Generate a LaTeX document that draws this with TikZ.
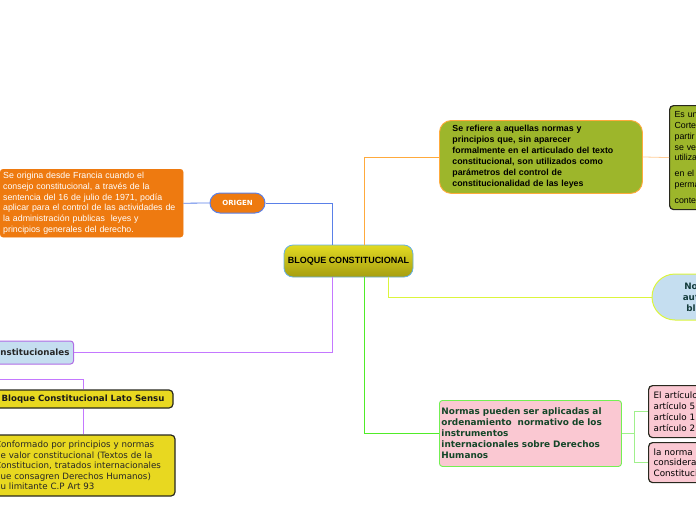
\documentclass[tikz,border=0pt]{standalone}
\usepackage{fontspec}
\setmainfont{Liberation Sans}
\newfontfamily\verd{DejaVu Sans}
\usepackage{tikz}
\usetikzlibrary{positioning,calc}
\usepackage{xcolor}
\definecolor{cOrange}{RGB}{238,122,16}
\definecolor{cOlive}{RGB}{157,182,43}
\definecolor{cSky}{RGB}{197,222,240}
\definecolor{cPink}{RGB}{250,200,210}
\definecolor{cLemon}{RGB}{232,216,32}
\definecolor{cTopY}{RGB}{226,218,34}
\definecolor{cBotY}{RGB}{166,158,16}
\definecolor{cEdgeBlue}{RGB}{100,176,228}
\definecolor{cLineBlue}{RGB}{90,128,232}
\definecolor{cLineOrange}{RGB}{255,170,60}
\definecolor{cLineLtOrange}{RGB}{255,204,150}
\definecolor{cLineYG}{RGB}{220,245,60}
\definecolor{cLinePurple}{RGB}{196,120,255}
\definecolor{cLineGreen}{RGB}{80,236,40}
\definecolor{cLineLtGreen}{RGB}{160,240,140}
\definecolor{cDarkTeal}{RGB}{20,60,60}
\definecolor{cDarkGreen}{RGB}{20,70,40}
\definecolor{cEdgeDark}{RGB}{40,40,30}
\tikzset{
  basebox/.style={rectangle,rounded corners=3pt,align=left,inner ysep=2pt},
  orangebox/.style={basebox,fill=cOrange,draw=cOrange,text=white,
                    font=\fontsize{8.8}{10.7}\selectfont},
  olivebox/.style={basebox,fill=cOlive,draw=cLineOrange,line width=0.9pt,
                   rounded corners=12pt,font=\bfseries\fontsize{8.8}{11}\selectfont},
  darkbox/.style={basebox,draw=cEdgeDark,line width=1.2pt,rounded corners=4pt},
  pinkbox/.style={basebox,fill=cPink,draw=cLineGreen!80,line width=0.9pt,
                  text=cDarkGreen,font=\verd\bfseries\fontsize{8.9}{11}\selectfont},
  pillbox/.style={rectangle,rounded corners=10pt,fill=cOrange,draw=cLineBlue,
                  line width=1pt,text=white,font=\verd\bfseries\fontsize{7}{8}\selectfont},
  link/.style={line width=0.8pt},
  bluelink/.style={link,color=cLineBlue},
  orangelink/.style={link,color=cLineOrange},
  ltorangelink/.style={link,color=cLineLtOrange},
  yglink/.style={link,color=cLineYG},
  purplelink/.style={link,color=cLinePurple},
  greenlink/.style={link,color=cLineGreen},
  ltgreenlink/.style={link,color=cLineLtGreen}
}
\begin{document}
\begin{tikzpicture}[x=1pt,y=-1pt]
  \useasboundingbox (0,0) rectangle (696,520);

  % Centre: BLOQUE CONSTITUCIONAL
  \node[rectangle,rounded corners=9pt,top color=cTopY,bottom color=cBotY,
        draw=cEdgeBlue,line width=0.8pt,minimum width=129pt,minimum height=32pt,
        font=\bfseries\fontsize{9}{10}\selectfont] (bloque) at (348.5,261)
      {BLOQUE CONSTITUCIONAL};

  % Origin branch
  \node[pillbox,minimum width=55pt,minimum height=20pt] (origen) at (237.5,203) {ORIGEN};
  \node[orangebox,anchor=north west,minimum width=183pt,minimum height=68pt,
        text width=177pt,inner xsep=3pt] (francia) at (0,169)
      {Se origina desde Francia cuando el\\
       consejo constitucional, a través de la\\
       sentencia del 16 de julio de 1971, podía\\
       aplicar para el control de las actividades de\\
       la administración publicas\ \ leyes y\\
       principios generales del derecho.};

  % Definition branch
  \node[olivebox,anchor=north west,minimum width=203pt,minimum height=73pt,
        text width=177pt,inner xsep=13pt] (refiere) at (439,120)
      {Se refiere a aquellas normas y\\
       principios que, sin aparecer\\
       formalmente en el articulado del texto\\
       constitucional, son utilizados como\\
       parámetros del control de\\
       constitucionalidad de las leyes};
  \node[darkbox,fill=cOlive,anchor=north west,minimum width=60pt,minimum height=104pt,
        text width=50pt,inner xsep=5pt,font=\fontsize{8.8}{10.8}\selectfont] (esun) at (669,105)
      {Es un\\Corte\\partir\\se ve\\utiliza\\[5pt]en el\\perma\\[5pt]conte};

  % Norms branch
  \node[rectangle,rounded corners=23pt,fill=cSky,draw=cLineYG,line width=1pt,
        minimum width=78pt,minimum height=46pt,align=center,text=cDarkTeal,
        font=\verd\bfseries\fontsize{8.8}{11}\selectfont] (noaut) at (691,297)
      {No\\aut\\bl};

  % Stricto / lato branch
  \node[basebox,fill=cSky,draw=cLinePurple!90!black,line width=1pt,anchor=east,
        minimum height=23pt,inner xsep=4pt,text=black!85,
        font=\verd\bfseries\fontsize{8.7}{10}\selectfont] (nstit) at (74,352.5)
      {nstitucionales};
  \node[darkbox,fill=cLemon,minimum width=180pt,minimum height=18pt,align=center,
        text=black!90,font=\verd\bfseries\fontsize{8.6}{10}\selectfont] (lato) at (83,399)
      {Bloque Constitucional Lato Sensu};
  \node[darkbox,fill=cLemon,minimum width=184pt,minimum height=61pt,text width=176pt,
        inner xsep=4pt,text=black!85,font=\verd\fontsize{8.7}{10.5}\selectfont] (conform) at (83,465.5)
      {Conformado por principios y normas\\
       de valor constitucional (Textos de la\\
       Constitucion, tratados internacionales\\
       que consagren Derechos Humanos)\\
       Su limitante C.P Art 93};
  \coordinate (latoin) at (-5,379);

  % International branch
  \node[pinkbox,anchor=north west,minimum width=182pt,minimum height=66pt,
        text width=178pt,inner xsep=2pt] (normas) at (439,400)
      {Normas pueden ser aplicadas al\\
       ordenamiento\ \ normativo de los\\
       instrumentos\\
       internacionales sobre Derechos\\
       Humanos};
  \node[darkbox,fill=cPink,anchor=north west,minimum width=60pt,minimum height=52pt,
        text width=50pt,inner xsep=5pt,font=\verd\fontsize{8.8}{10.8}\selectfont] (art) at (648,385)
      {El artículo\\artículo 5\\artículo 1\\artículo 2};
  \node[darkbox,fill=cPink,anchor=north west,minimum width=60pt,minimum height=40pt,
        text width=50pt,inner xsep=5pt,font=\verd\fontsize{8.8}{10.8}\selectfont] (lanorma) at (648,442)
      {la norma\\considera\\Constituci};

  % Connectors
  \draw[bluelink] (francia.east) -- (origen.west);
  \draw[bluelink] (origen.east) -| ([xshift=-16.5pt]bloque.north);
  \draw[orangelink] ([xshift=15.5pt]bloque.north) |- (refiere.west);
  \draw[ltorangelink] (refiere.east) -- (esun.west);
  \draw[yglink] ([xshift=39.5pt]bloque.south) |- (noaut.west);
  \draw[purplelink] ([xshift=-16.5pt]bloque.south) |- (nstit.east);
  \draw[purplelink] (latoin) -| (lato.north);
  \draw[purplelink] (lato.south) -- (conform.north);
  \draw[greenlink] ([xshift=15.5pt]bloque.south) |- (normas.west);
  \foreach \n in {art,lanorma}
    \draw[ltgreenlink] (normas.east) -- ++(12,0) |- (\n.west);

\end{tikzpicture}
\end{document}
